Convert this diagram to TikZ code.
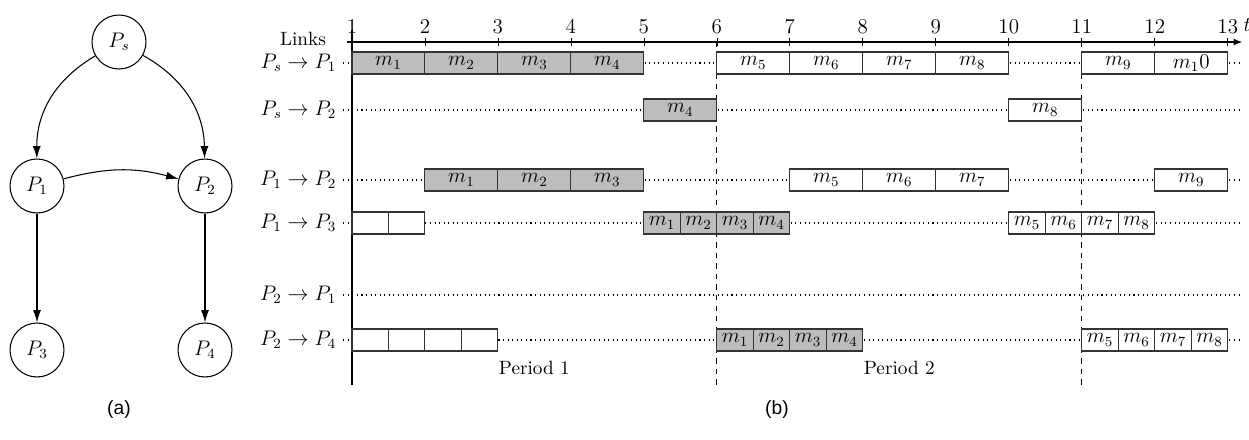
\documentclass[tikz,border=0pt,11pt]{standalone}
\usepackage{amsmath,amssymb}
\usepackage{fontspec}
\newfontfamily\capfont{Liberation Sans}
\usepackage{tikz}
\usetikzlibrary{arrows.meta,positioning}

\begin{document}
\begin{tikzpicture}[x=0.02cm,y=-0.02cm,
  proc/.style={circle,draw,line width=0.6pt,minimum size=1.08cm,inner sep=0pt,font=\large},
  link/.style={-{Latex[length=7pt,width=4.5pt]},line width=0.6pt},
  busy/.style={draw=black!80,fill=gray!52,line width=0.65pt},
  idle/.style={draw=black!80,fill=white,line width=0.65pt},
  msg/.style={font=\large,inner sep=0pt},
  linklabel/.style={anchor=east,font=\large},
  rowline/.style={dotted,line width=0.6pt},
  period/.style={dashed,line width=0.5pt}]
  \useasboundingbox (0,0) rectangle (1249,440); % 図全体の大きさ
  \node[proc] (Ps) at (119,42) {$P_s$}; % 送信元
  \node[proc] (P1) at (37,186) {$P_1$};
  \node[proc] (P2) at (205,186) {$P_2$};
  \node[proc] (P3) at (37,350) {$P_3$};
  \node[proc] (P4) at (205,350) {$P_4$};
  \draw[link] (Ps) to[bend right=30] (P1); % 左へ曲がる辺
  \draw[link] (Ps) to[bend left=30] (P2); % 右へ曲がる辺
  \draw[link] (P1) to[bend left=15] (P2);
  \draw[link] (P1) -- (P3);
  \draw[link] (P2) -- (P4);
  \node (capa) at (119,410) {\capfont (a)};
  \node (capb) at (777,410) {\capfont (b)};
  \node (links) at (303,39) {Links}; % 縦軸の見出し
  \node[linklabel] (r1) at (343,63) {$P_s\rightarrow P_1$};
  \node[linklabel] (r2) at (343,110) {$P_s\rightarrow P_2$};
  \node[linklabel] (r3) at (343,180) {$P_1\rightarrow P_2$};
  \node[linklabel] (r4) at (343,223) {$P_1\rightarrow P_3$};
  \node[linklabel] (r5) at (343,295) {$P_2\rightarrow P_1$};
  \node[linklabel] (r6) at (343,340) {$P_2\rightarrow P_4$};
  \begin{scope}[xshift=5.58cm,x=1.46cm] % 横は時刻 t の単位
    \foreach \y in {63,110,180,223,295,340}
      \draw[rowline] (0.88,\y) -- (13.16,\y); % 各リンクの点線
    \draw[-{Latex[length=5pt,width=4pt]},line width=0.8pt] (0.93,42) -- (13.2,42); % 時間軸
    \draw[line width=0.8pt] (1,30) -- (1,385); % 縦軸
    \foreach \t in {1,...,13} {
      \draw (\t,38) -- (\t,46);
      \node[font=\large] (n\t) at (\t,27) {$\t$};
    }
    \node[font=\large] (tlab) at (13.27,25) {$t$};
    \draw[period] (6,42) -- (6,385); % 周期の境目
    \draw[period] (11,42) -- (11,385);
    % P_s -> P_1
    \foreach \i in {1,...,4}
      \draw[busy] (\i,52) rectangle node[msg] (a\i) {$m_{\i}$} (\i+1,74);
    \foreach \i in {5,...,8}
      \draw[idle] (\i+1,52) rectangle node[msg] (a\i) {$m_{\i}$} (\i+2,74);
    \draw[idle] (11,52) rectangle node[msg] (a9) {$m_9$} (12,74);
    \draw[idle] (12,52) rectangle node[msg] (a10) {$m_10$} (13,74);
    % P_s -> P_2
    \draw[busy] (5,99) rectangle node[msg] (b4) {$m_4$} (6,121);
    \draw[idle] (10,99) rectangle node[msg] (b8) {$m_8$} (11,121);
    % P_1 -> P_2
    \foreach \i in {1,...,3}
      \draw[busy] (\i+1,169) rectangle node[msg] (c\i) {$m_{\i}$} (\i+2,191);
    \foreach \i in {5,...,7}
      \draw[idle] (\i+2,169) rectangle node[msg] (c\i) {$m_{\i}$} (\i+3,191);
    \draw[idle] (12,169) rectangle node[msg] (c9) {$m_9$} (13,191);
    % P_1 -> P_3
    \foreach \k in {0,1}
      \draw[idle] (1+\k/2,212) rectangle (1.5+\k/2,234);
    \foreach \i in {1,...,4}
      \draw[busy] (4.5+\i/2,212) rectangle node[msg] (d\i) {$m_{\i}$} (5+\i/2,234);
    \foreach \i in {5,...,8}
      \draw[idle] (7.5+\i/2,212) rectangle node[msg] (d\i) {$m_{\i}$} (8+\i/2,234);
    % P_2 -> P_4
    \foreach \k in {0,...,3}
      \draw[idle] (1+\k/2,329) rectangle (1.5+\k/2,351);
    \foreach \i in {1,...,4}
      \draw[busy] (5.5+\i/2,329) rectangle node[msg] (f\i) {$m_{\i}$} (6+\i/2,351);
    \foreach \i in {5,...,8}
      \draw[idle] (8.5+\i/2,329) rectangle node[msg] (f\i) {$m_{\i}$} (9+\i/2,351);
    \node (per1) at (3.5,368) {Period 1};
    \node (per2) at (8.5,368) {Period 2};
  \end{scope}
\end{tikzpicture}
\end{document}
